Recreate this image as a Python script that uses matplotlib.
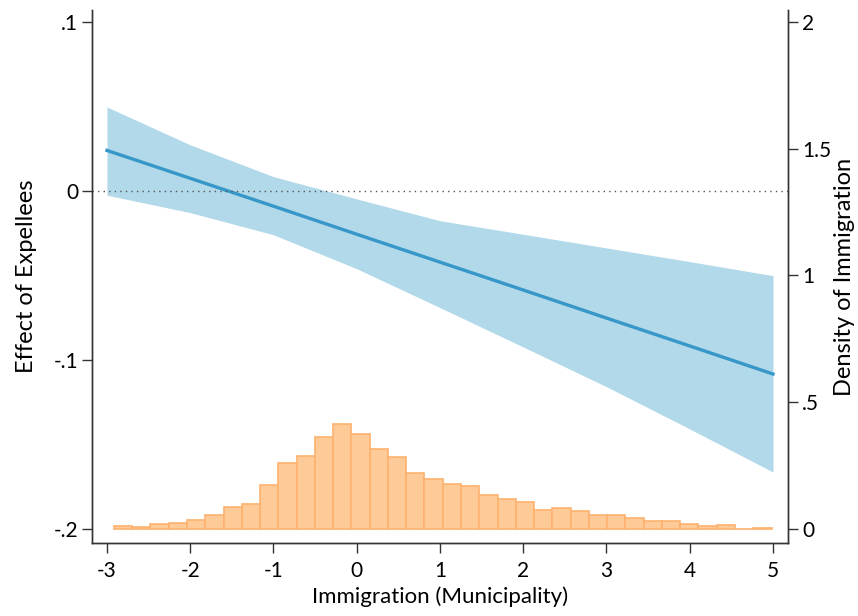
import numpy as np
import matplotlib
matplotlib.use("Agg")
import matplotlib.pyplot as plt

plt.rcParams['font.family'] = ['Lato', 'DejaVu Sans']

# marginal effect of expellees at each immigration value
x_pts = [-3, -2, -1, 0, 1, 2, 3, 4, 5]
effect = [0.0240, 0.0075, -0.0090, -0.0256, -0.0421, -0.0586, -0.0752, -0.0917, -0.1083]
ci_hi = [0.0497, 0.0273, 0.0085, -0.0047, -0.0176, -0.0256, -0.0337, -0.0418, -0.0501]
ci_lo = [-0.0025, -0.0128, -0.0259, -0.0460, -0.0690, -0.0923, -0.1158, -0.1408, -0.1663]

# histogram of immigration (density)
bin_start = -2.916
bin_width = 0.2194
density = [0.012, 0.009, 0.021, 0.022, 0.034, 0.055, 0.088, 0.097, 0.174, 0.260,
           0.287, 0.364, 0.414, 0.373, 0.314, 0.283, 0.220, 0.196, 0.177, 0.168,
           0.134, 0.118, 0.108, 0.074, 0.083, 0.072, 0.056, 0.054, 0.043, 0.030,
           0.030, 0.020, 0.013, 0.014, 0.002, 0.004]
bin_left = bin_start + bin_width * np.arange(len(density))

fig = plt.figure(figsize=(8.58, 6.16), dpi=100)
ax = fig.add_axes([0.1072, 0.1185, 0.8112, 0.8653])
ax2 = ax.twinx()
ax.set_zorder(ax2.get_zorder() + 1)
ax.patch.set_visible(False)

ax2.bar(bin_left, density, width=bin_width, align='edge',
        color='#fdca98', edgecolor='#fdb26e', linewidth=1.2)

ax.fill_between(x_pts, ci_lo, ci_hi, color='#b1d9ea', linewidth=0)
ax.plot(x_pts, effect, color='#3797c9', lw=2.4)
ax.axhline(0, color='#555555', lw=1, ls=(0, (1, 3)))

ax.set_xlim(-3.18, 5.18)
ax.set_ylim(-0.2083, 0.1071)
ax2.set_ylim(-0.0552, 2.0473)

ax.set_xticks(x_pts)
ax.set_xticklabels([str(v) for v in x_pts])
ax.set_yticks([-0.2, -0.1, 0, 0.1])
ax.set_yticklabels(['-.2', '-.1', '0', '.1'])
ax2.set_yticks([0, 0.5, 1, 1.5, 2])
ax2.set_yticklabels(['0', '.5', '1', '1.5', '2'])

for a in (ax, ax2):
    a.spines['top'].set_visible(False)
    for s in a.spines.values():
        s.set_color('#333333')
        s.set_linewidth(1.0)
    a.tick_params(labelsize=15, length=7, width=1, color='#333333', pad=3)
ax.tick_params(axis='x', pad=6)

ax.set_xlabel('Immigration (Municipality)', fontsize=16, labelpad=4)
ax.set_ylabel('Effect of Expellees', fontsize=17)
ax.yaxis.set_label_coords(-0.079, 0.5)
ax2.set_ylabel('Density of Immigration', fontsize=17)
ax2.yaxis.set_label_coords(1.066, 0.5)

fig.savefig('out.png', dpi=100)
